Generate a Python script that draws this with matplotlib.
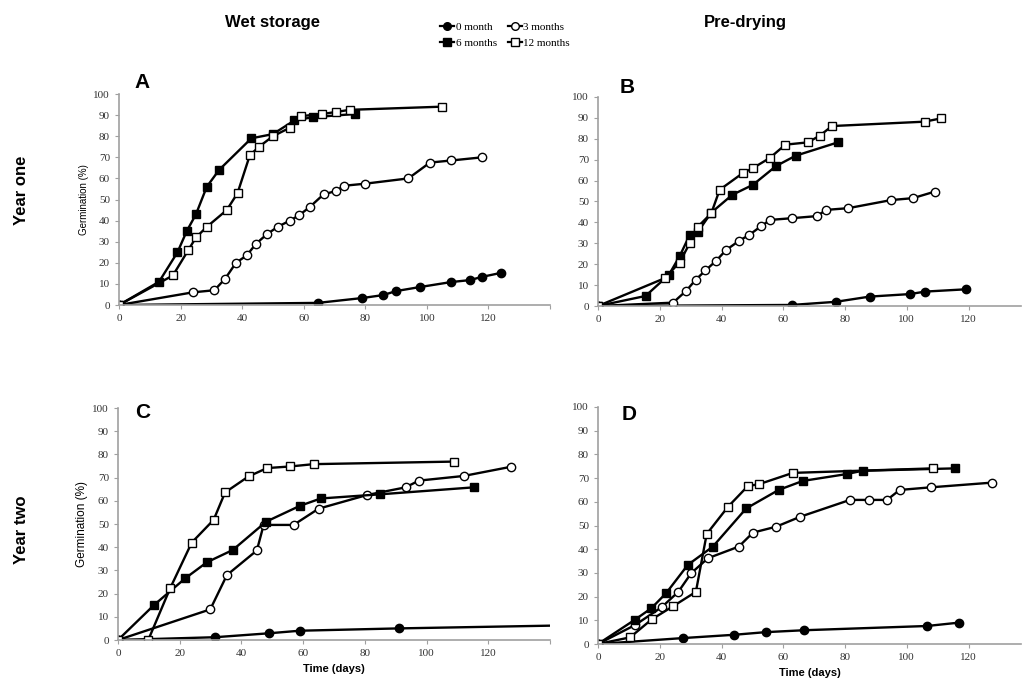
import matplotlib
matplotlib.use('Agg')
import matplotlib.pyplot as plt
from matplotlib.lines import Line2D

# ---- data (days, germination %) ----
# A: wet storage, year one
a0_x = [0, 64.6, 79, 85.8, 90, 97.7, 108, 114, 117.8, 124]
a0_y = [0, 1, 3.3, 4.7, 6.6, 8.5, 10.9, 11.8, 13.3, 15.2]
a3_x = [0, 24, 31, 34.5, 38, 41.5, 44.5, 48, 51.5, 55.5, 58.5, 62, 66.5, 70.5, 73, 80, 94, 101, 108, 118]
a3_y = [0, 6, 7, 12.5, 20, 23.5, 29, 33.5, 37, 40, 42.5, 46.5, 52.5, 54, 56.5, 57.5, 60, 67.5, 68.5, 70]
a6_x = [0, 13, 19, 22, 25, 28.5, 32.5, 43, 50, 57, 63, 76.5]
a6_y = [0, 11, 25, 35, 43, 56, 64, 79, 81, 87.5, 89, 90.5]
a12_x = [0, 17.5, 22.5, 25, 28.5, 35, 38.5, 42.5, 45.5, 50, 55.5, 59, 66, 70.5, 75, 105]
a12_y = [0, 14, 26, 32, 37, 45, 53, 71, 75, 80, 84, 89.5, 90.5, 91.5, 92.5, 94]

# B: pre-drying, year one
b0_x = [0, 62.7, 77, 88, 101, 106, 119.3]
b0_y = [0, 0.5, 2, 4.5, 5.7, 6.9, 8]
b3_x = [0, 24.3, 28.6, 31.6, 34.8, 38.3, 41.5, 45.8, 49, 52.9, 55.8, 62.7, 70.8, 74, 81, 95, 102, 109]
b3_y = [0, 1.6, 7.3, 12.5, 17, 21.7, 26.8, 31.3, 34, 38.3, 41.2, 42, 43, 46, 46.8, 50.7, 51.6, 54.7]
b6_x = [0, 15.4, 23, 26.5, 29.7, 32.4, 36.7, 43.5, 50.2, 57.7, 64, 77.7]
b6_y = [0, 4.8, 15, 24, 34, 35.6, 44.7, 53.2, 58, 67, 71.9, 78.3]
b12_x = [0, 21.6, 26.4, 29.7, 32.4, 36.7, 39.4, 46.9, 50.2, 55.6, 60.7, 68, 71.8, 75.8, 105.8, 111.2]
b12_y = [0, 13.3, 20.8, 30, 38, 44.4, 55.6, 63.6, 66, 70.8, 77.2, 78.3, 81.5, 86.1, 88.2, 89.8]

# C: wet storage, year two
c0_x = [0, 31.5, 49, 58.9, 91, 145]
c0_y = [0, 1.2, 2.9, 4, 5, 6.3]
c3_x = [0, 29.9, 35.3, 45, 47.2, 56.9, 65, 80.7, 93.2, 97.5, 112, 127.5]
c3_y = [0, 13.2, 28, 38.6, 49.6, 49.6, 56.6, 62.5, 65.8, 68.7, 70.7, 74.7]
c6_x = [0, 11.7, 21.8, 28.8, 37.2, 48, 58.9, 65.7, 85, 115.3]
c6_y = [0, 15.1, 26.6, 33.5, 38.8, 51, 57.8, 61, 62.8, 65.8]
c12_x = [0, 9.8, 16.9, 23.9, 31, 34.7, 42.3, 48.3, 55.8, 63.4, 108.9]
c12_y = [0, 0, 22.3, 42, 51.8, 63.6, 70.5, 74.1, 74.8, 75.8, 76.9]

# D: pre-drying, year two
d0_x = [0, 27.5, 44.2, 54.3, 66.6, 106.6, 116.8]
d0_y = [0, 2.5, 3.9, 5, 5.8, 7.6, 9]
d3_x = [0, 12, 20.6, 26, 30.2, 35.6, 45.6, 50.2, 57.7, 65.5, 81.6, 87.8, 93.6, 97.7, 107.7, 127.7]
d3_y = [0, 8, 15.5, 22, 29.9, 36.2, 41.1, 47, 49.5, 53.7, 60.8, 60.8, 60.8, 65, 66.1, 68.1]
d6_x = [0, 11.9, 17.3, 22.1, 29.1, 37.2, 48, 58.5, 66.3, 80.5, 85.7, 115.5]
d6_y = [0, 10.2, 15.1, 21.5, 33.4, 41.1, 57.2, 65, 68.8, 71.7, 73.1, 74.1]
d12_x = [0, 10.4, 17.4, 24.4, 31.7, 35.2, 42.1, 48.5, 52.3, 63.1, 108.5]
d12_y = [0, 2.8, 10.4, 16, 22, 46.4, 57.9, 66.6, 67.5, 72.2, 74.1]

series_names = ['0 month', '3 months', '6 months', '12 months']
styles = [('o', 'black'), ('o', 'white'), ('s', 'black'), ('s', 'white')]

panels = {
    'A': [(a0_x, a0_y), (a3_x, a3_y), (a6_x, a6_y), (a12_x, a12_y)],
    'B': [(b0_x, b0_y), (b3_x, b3_y), (b6_x, b6_y), (b12_x, b12_y)],
    'C': [(c0_x, c0_y), (c3_x, c3_y), (c6_x, c6_y), (c12_x, c12_y)],
    'D': [(d0_x, d0_y), (d3_x, d3_y), (d6_x, d6_y), (d12_x, d12_y)],
}

serif = 'Liberation Serif'
sans = 'Liberation Sans'

fig = plt.figure(figsize=(10.25, 6.94), dpi=100)

# axes rectangles (left, bottom, width, height) in figure fraction
rects = {
    'A': [119 / 1025, 1 - 305 / 694, 431 / 1025, 211 / 694],
    'B': [598 / 1025, 1 - 306 / 694, 423 / 1025, 209 / 694],
    'C': [118 / 1025, 1 - 640 / 694, 432 / 1025, 232 / 694],
    'D': [598 / 1025, 1 - 644 / 694, 423 / 1025, 237 / 694],
}
xmax = {'A': 140, 'B': 137, 'C': 140, 'D': 137}
letter_pos = {'A': (0.035, 1.01), 'B': (0.05, 1.0), 'C': (0.04, 1.02), 'D': (0.055, 1.01)}

axes = {}
for key, rect in rects.items():
    ax = fig.add_axes(rect)
    axes[key] = ax
    for (xs, ys), (mk, fc) in zip(panels[key], styles):
        ax.plot(xs, ys, color='black', lw=1.7, marker=mk, markersize=6,
                markerfacecolor=fc, markeredgecolor='black', markeredgewidth=1.0)
    ax.set_xlim(0, xmax[key])
    ax.set_ylim(0, 100)
    ax.set_yticks(range(0, 101, 10))
    xt = [t for t in range(0, 141, 20) if t <= xmax[key]]
    ax.set_xticks(xt)
    ax.set_xticklabels([str(t) if t <= 120 else '' for t in xt])
    for s in ['top', 'right']:
        ax.spines[s].set_visible(False)
    for s in ['left', 'bottom']:
        ax.spines[s].set_color('#a0a0a0')
        ax.spines[s].set_linewidth(1.2)
    ax.tick_params(colors='#a0a0a0', length=3, labelcolor='#333333', labelsize=8)
    for lab in ax.get_xticklabels() + ax.get_yticklabels():
        lab.set_fontfamily(serif)
    lx, ly = letter_pos[key]
    ax.text(lx, ly, key, transform=ax.transAxes, fontsize=15, fontweight='bold',
            family=sans, va='bottom' if key in 'AB' else 'top', ha='left')

axes['A'].set_ylabel('Germination (%)', fontsize=7, family=sans, labelpad=3)
axes['C'].set_ylabel('Germination (%)', fontsize=8.5, family=sans, labelpad=3)
axes['C'].set_xlabel('Time (days)', fontsize=8, family=sans, fontweight='bold', labelpad=4)
axes['D'].set_xlabel('Time (days)', fontsize=8, family=sans, fontweight='bold', labelpad=4)

fig.text(0.266, 0.968, 'Wet storage', fontsize=12, fontweight='bold', family=sans, ha='center', va='center')
fig.text(0.727, 0.968, 'Pre-drying', fontsize=12, fontweight='bold', family=sans, ha='center', va='center')
fig.text(0.021, 0.726, 'Year one', fontsize=12, fontweight='bold', family=sans, rotation=90, ha='center', va='center')
fig.text(0.021, 0.236, 'Year two', fontsize=12, fontweight='bold', family=sans, rotation=90, ha='center', va='center')

handles = [Line2D([], [], color='black', lw=1.6, marker=mk, markersize=5.5,
                  markerfacecolor=fc, markeredgecolor='black') for mk, fc in styles]
# order so that rows read: 0 month / 3 months, 6 months / 12 months
order = [0, 2, 1, 3]
fig.legend([handles[i] for i in order], [series_names[i] for i in order],
           loc='center', bbox_to_anchor=(505 / 1025, 1 - 35 / 694), ncol=2, frameon=False,
           prop={'family': serif, 'size': 8}, handlelength=1.3, handletextpad=0.1,
           columnspacing=1.0, labelspacing=0.6, borderpad=0)

fig.savefig('out.png', dpi=100)
